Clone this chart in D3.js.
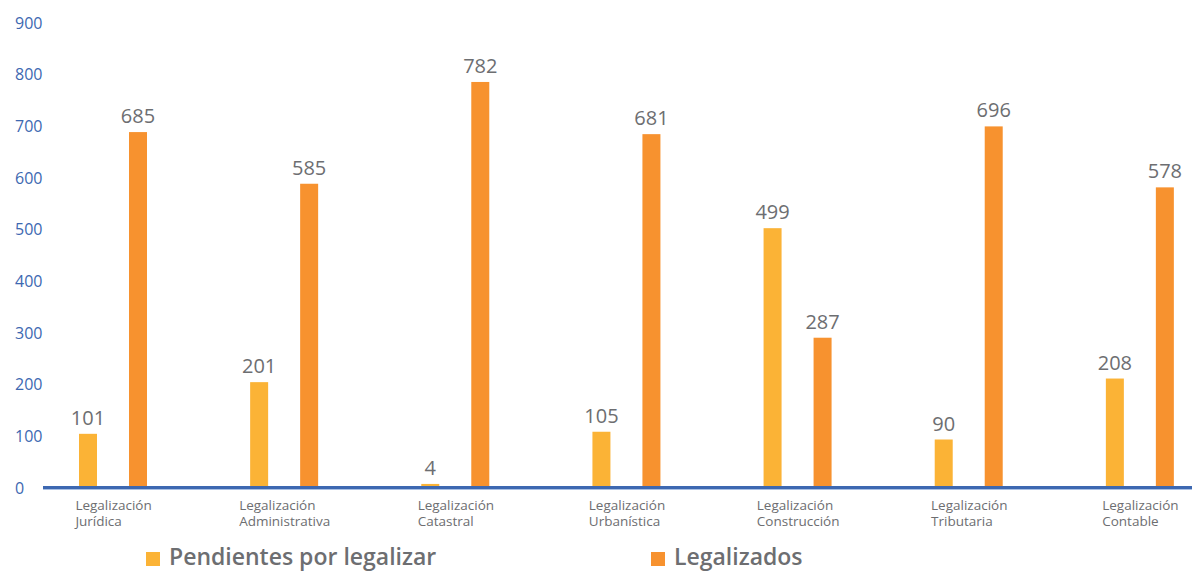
<!DOCTYPE html>
<html>
<head>
<meta charset="utf-8">
<script src="https://cdn.jsdelivr.net/npm/d3@7"></script>
<style>
  body { margin: 0; background: #fff; }
  svg { display: block; font-family: "Open Sans", sans-serif; }
</style>
</head>
<body>
<svg width="1192" height="572"></svg>
<script>
// categories (two lines each) and the two series
var categories = ["Jurídica", "Administrativa", "Catastral", "Urbanística", "Construcción", "Tributaria", "Contable"];
var labelLines = [
  ["Legalización", "Jurídica"],
  ["Legalización", "Administrativa"],
  ["Legalización", "Catastral"],
  ["Legalización", "Urbanística"],
  ["Legalización", "Construcción"],
  ["Legalización", "Tributaria"],
  ["Legalización", "Contable"]
];
var seriesNames = ["Pendientes por legalizar", "Legalizados"];
var pendientes = [101, 201, 4, 105, 499, 90, 208];
var legalizados = [685, 585, 782, 681, 287, 696, 578];
var yTicks = [0, 100, 200, 300, 400, 500, 600, 700, 800, 900];

var colors = ["#FBB336", "#F7922F"];
var gray = "#6d6e71";
var blue = "#3d68b1";

var svg = d3.select("svg");

// scales
var x0 = d3.scaleBand()
    .domain(categories)
    .range([28, 1226]);

var x1 = d3.scaleBand()
    .domain(seriesNames)
    .range([51, 119])
    .paddingInner(0.64)
    .paddingOuter(0);

var y = d3.scaleLinear()
    .domain([0, 900])
    .range([486, 21]);

// y axis labels only (no line, no ticks)
var yAxis = svg.append("g")
    .attr("transform", "translate(15,2)")
    .call(d3.axisLeft(y).tickValues(yTicks).tickSize(0));
yAxis.select(".domain").remove();
yAxis.selectAll("text")
    .attr("x", 0)
    .attr("text-anchor", "start")
    .attr("fill", blue)
    .style("font-size", "16px")
    .style("font-family", "'Open Sans', sans-serif");

// bars
var rows = categories.map(function (c, i) {
  return { cat: c, values: [pendientes[i], legalizados[i]] };
});

var groups = svg.selectAll(".grp")
    .data(rows)
    .enter()
    .append("g")
    .attr("class", "grp")
    .attr("transform", d => "translate(" + x0(d.cat) + ",0)");

groups.selectAll("rect")
    .data(d => d.values.map((v, k) => ({ key: seriesNames[k], v: v, k: k })))
    .enter()
    .append("rect")
    .attr("x", d => x1(d.key))
    .attr("width", x1.bandwidth())
    .attr("y", d => y(d.v))
    .attr("height", d => y(0) - y(d.v))
    .attr("fill", d => colors[d.k]);

// value labels
groups.selectAll(".val")
    .data(d => d.values.map((v, k) => ({ key: seriesNames[k], v: v, k: k })))
    .enter()
    .append("text")
    .attr("class", "val")
    .attr("x", d => x1(d.key) + x1.bandwidth() / 2)
    .attr("y", d => y(d.v) - 9)
    .attr("text-anchor", "middle")
    .attr("fill", gray)
    .style("font-size", "20px")
    .text(d => d.v);

// x axis line
svg.append("line")
    .attr("x1", 43).attr("x2", 1192)
    .attr("y1", y(0) + 1.5).attr("y2", y(0) + 1.5)
    .attr("stroke", blue)
    .attr("stroke-width", 3);
svg.append("line")
    .attr("x1", 43).attr("x2", 1192)
    .attr("y1", y(0) + 3.5).attr("y2", y(0) + 3.5)
    .attr("stroke", "#a9c0e4")
    .attr("stroke-width", 1);

// category labels, left aligned block centred under the group
categories.forEach(function (c, i) {
  var cx = x0(c) + x0.bandwidth() / 2;
  var t = svg.append("text")
      .attr("fill", gray)
      .style("font-size", "13.5px");
  labelLines[i].forEach(function (line, j) {
    t.append("tspan")
        .attr("y", 510 + j * 16)
        .text(line);
  });
  var w = d3.max(t.selectAll("tspan").nodes(), n => n.getComputedTextLength());
  t.selectAll("tspan").attr("x", cx - w / 2);
});

// legend
var legendX = [146, 651];
seriesNames.forEach(function (s, k) {
  svg.append("rect")
      .attr("x", legendX[k]).attr("y", 552)
      .attr("width", 14).attr("height", 14)
      .attr("fill", colors[k]);
  svg.append("text")
      .attr("x", legendX[k] + 23)
      .attr("y", 565)
      .attr("fill", gray)
      .style("font-size", "23px")
      .style("font-weight", 600)
      .text(s);
});
</script>
</body>
</html>
